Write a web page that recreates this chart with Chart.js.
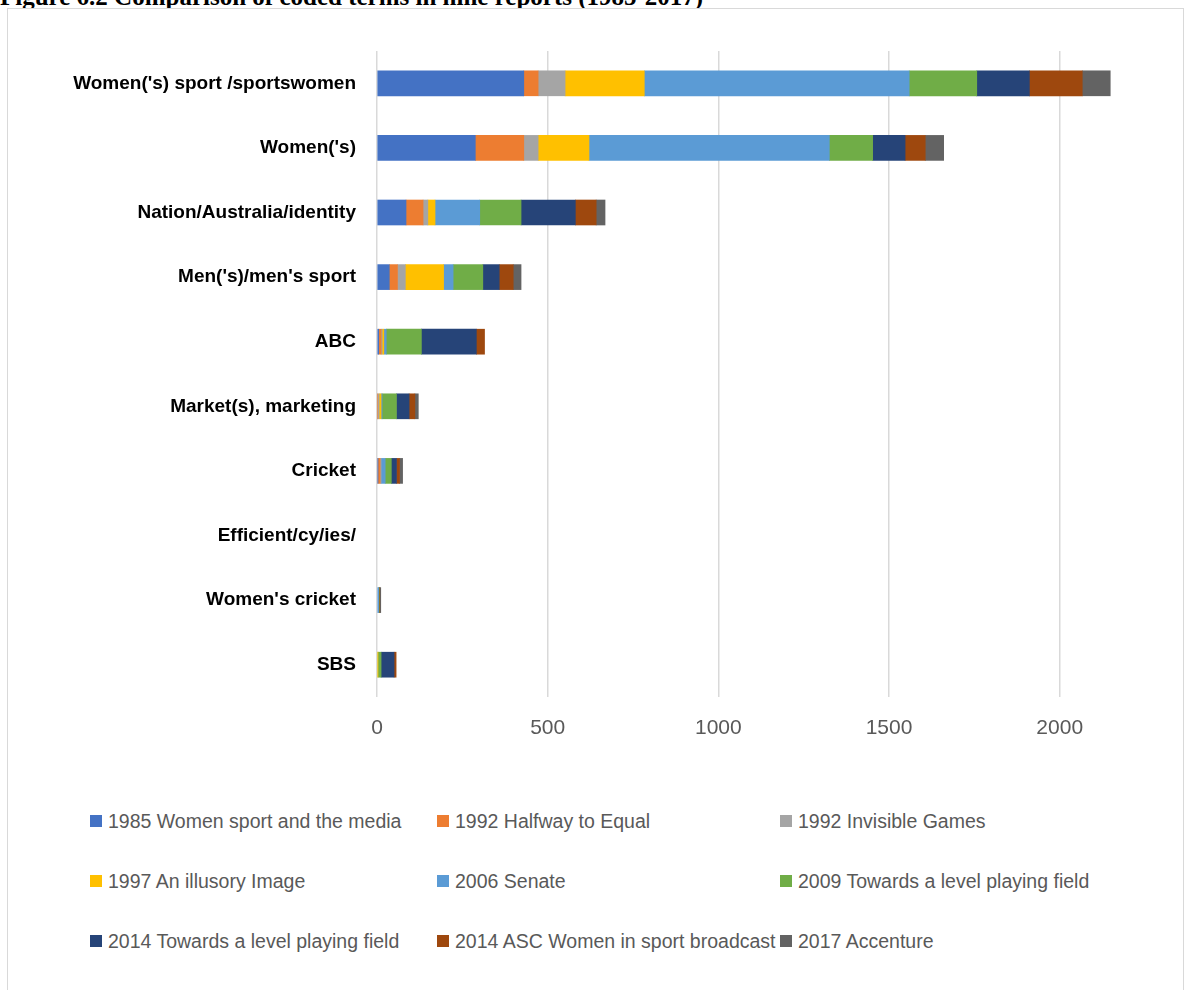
<!DOCTYPE html>
<html>
<head>
<meta charset="utf-8">
<script src="https://cdn.jsdelivr.net/npm/chart.js@4.4.0/dist/chart.umd.min.js"></script>
<style>
  body { margin: 0; background: #fff; width: 1184px; height: 990px; overflow: hidden; position: relative; }
  #caption { position: absolute; left: 0; top: -16px; font: bold 25px "Liberation Serif", "Times New Roman", serif; line-height: 25px; white-space: nowrap; color: #000; }
  #frame { position: absolute; left: 7px; top: 8px; width: 1175px; height: 1000px; border: 1px solid #d9d9d9; background: #fff; }
  #box { position: absolute; left: 8px; top: 9px; width: 1174px; height: 760px; }
  #legend { position: absolute; left: 90px; top: 791px; display: grid; grid-template-columns: 347px 343px auto; grid-auto-rows: 60px; }
  .item { display: flex; align-items: center; font: 19.5px "Liberation Sans", Arial, sans-serif; color: #595959; white-space: nowrap; }
  .swatch { width: 12px; height: 12px; margin-right: 6px; flex: none; }
</style>
</head>
<body>
<div id="caption">Figure 6.2 Comparison of coded terms in nine reports (1985-2017)</div>
<div id="frame"></div>
<div id="box"><canvas id="chart"></canvas></div>
<div id="legend"></div>
<script>
// Coded terms, top to bottom
var terms = ["Women('s) sport /sportswomen", "Women('s)", "Nation/Australia/identity", "Men('s)/men's sport",
  "ABC", "Market(s), marketing", "Cricket", "Efficient/cy/ies/", "Women's cricket", "SBS"];

// Reports (series names)
var reports = ["1985 Women sport and the media", "1992 Halfway to Equal", "1992 Invisible Games",
  "1997 An illusory Image", "2006 Senate", "2009 Towards a level playing field",
  "2014 Towards a level playing field", "2014 ASC Women in sport broadcast", "2017 Accenture"];

// Counts per report, same order as terms
var r1985 = [430, 288, 85, 36, 5, 0, 3, 0, 0, 0];
var r1992halfway = [42, 142, 50, 24, 7, 2, 6, 0, 0, 0];
var r1992invisible = [79, 42, 14, 23, 3, 4, 3, 0, 0, 0];
var r1997 = [232, 149, 21, 112, 5, 6, 0, 0, 0, 3];
var r2006 = [776, 704, 131, 28, 7, 3, 12, 0, 5, 0];
var r2009 = [198, 127, 121, 87, 103, 42, 18, 0, 1, 9];
var r2014level = [154, 95, 159, 48, 161, 37, 15, 0, 0, 38];
var r2014asc = [155, 59, 61, 41, 24, 17, 9, 0, 2, 6];
var r2017 = [82, 54, 26, 23, 0, 10, 9, 0, 3, 0];

var xTicks = [0, 500, 1000, 1500, 2000];

var series = [r1985, r1992halfway, r1992invisible, r1997, r2006, r2009, r2014level, r2014asc, r2017];
var colors = ["#4472C4", "#ED7D31", "#A5A5A5", "#FFC000", "#5B9BD5", "#70AD47", "#264478", "#9E480E", "#636363"];

var datasets = [];
for (var i = 0; i < series.length; i++) {
  datasets.push({
    label: reports[i],
    // zero counts become gaps so no hairline is drawn at the axis
    data: series[i].map(function (v) { return v === 0 ? null : v; }),
    backgroundColor: colors[i],
    borderWidth: 0,
    barThickness: 25
  });
}

var chart = new Chart(document.getElementById("chart"), {
  type: "bar",
  data: { labels: terms, datasets: datasets },
  options: {
    indexAxis: "y",
    responsive: true,
    maintainAspectRatio: false,
    animation: false,
    layout: { padding: { top: 42, right: 54, left: 0, bottom: 0 } },
    plugins: {
      legend: { display: false },
      tooltip: { enabled: false }
    },
    scales: {
      x: {
        stacked: true,
        min: 0,
        max: 2200,
        afterFit: function (scale) { scale.height = 72; },
        afterBuildTicks: function (scale) {
          scale.ticks = xTicks.map(function (v) { return { value: v }; });
        },
        grid: { color: "#d9d9d9", lineWidth: 1.5, drawTicks: false },
        border: { display: false },
        ticks: {
          padding: 19,
          color: "#595959",
          font: { family: "Liberation Sans", size: 21 },
          callback: function (v) { return String(v); }
        }
      },
      y: {
        stacked: true,
        afterFit: function (scale) { scale.width = 369; },
        grid: { display: false, drawTicks: false },
        border: { display: false },
        ticks: {
          padding: 21,
          color: "#000",
          font: { family: "Liberation Sans", size: 19, weight: "bold" }
        }
      }
    }
  }
});

// Legend laid out in three columns under the chart
var legend = document.getElementById("legend");
chart.data.datasets.forEach(function (ds) {
  var item = document.createElement("div");
  item.className = "item";
  var sw = document.createElement("span");
  sw.className = "swatch";
  sw.style.background = ds.backgroundColor;
  item.appendChild(sw);
  item.appendChild(document.createTextNode(ds.label));
  legend.appendChild(item);
});
</script>
</body>
</html>
